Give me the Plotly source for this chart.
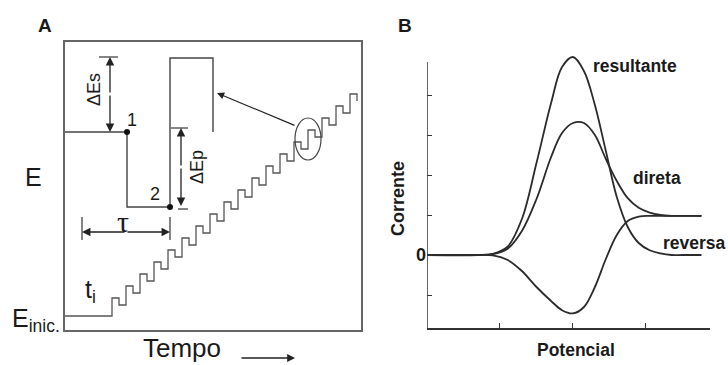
import plotly.graph_objects as go

W, H = 728, 365
FONT = "Liberation Sans, Arial, sans-serif"
SERIF = "Liberation Serif, Times New Roman, serif"
INK = "#2b2b2b"

# ---------------- Panel A : square-wave staircase (schematic units) ----------------
t_first = 47.0        # time of first pulse
period = 14.0         # tau
n_cycles = 18
E_ini = 14.0          # initial potential
E_first = 28.5        # first staircase level
dEs = 12.0            # staircase step
dEp = 3.5             # pulse amplitude

# inset (enlarged single cycle)
inset_t = [0, 62, 62, 105, 105, 148, 148]
inset_E = [198, 198, 123, 123, 272, 272, 198]
point_t = [62, 105]
point_E = [198, 123]
point_lbl = ["1", "2"]

# ---------------- Panel B : square-wave voltammogram ----------------
pot = [0, 0.7, 0.9, 1.1, 1.3, 1.5, 1.7, 1.85, 2.0, 2.15, 2.3, 2.45, 2.6, 2.75, 2.9,
       3.05, 3.2, 3.35, 3.5, 3.76]
i_res = [0, 0, 0.03, 0.2, 0.9, 2.3, 3.8, 4.7, 4.95, 4.6, 3.75, 2.6, 1.45, 0.7, 0.3,
         0.12, 0.04, 0.0, 0.0, 0.0]
i_dir = [0, 0, 0.02, 0.15, 0.6, 1.4, 2.45, 3.05, 3.3, 3.3, 3.0, 2.4, 1.85, 1.42, 1.18,
         1.06, 1.0, 0.98, 0.98, 0.98]
i_rev = [0, 0, -0.01, -0.12, -0.4, -0.8, -1.15, -1.38, -1.46, -1.3, -0.8, -0.1, 0.5,
         0.85, 0.96, 0.98, 0.98, 0.98, 0.98, 0.98]

# build staircase waveform points (hv steps)
st_t = [0.0]
st_E = [E_ini]
for k in range(n_cycles):
    base = E_first + dEs * k
    t = t_first + period * k
    st_t += [t, t + period / 2]
    st_E += [base + dEp, base - dEp]

fig = go.Figure()

fig.add_trace(go.Scatter(x=st_t, y=st_E, mode="lines", line_shape="hv",
                         line=dict(color="#555555", width=1.3), xaxis="x", yaxis="y",
                         hoverinfo="skip"))
fig.add_trace(go.Scatter(x=inset_t, y=inset_E, mode="lines",
                         line=dict(color="#444444", width=1.4), xaxis="x", yaxis="y",
                         hoverinfo="skip"))
fig.add_trace(go.Scatter(x=point_t, y=point_E, mode="markers",
                         marker=dict(color="#111111", size=6), xaxis="x", yaxis="y",
                         hoverinfo="skip"))

for yv in (i_res, i_dir, i_rev):
    fig.add_trace(go.Scatter(x=pot, y=yv, mode="lines", line_shape="spline",
                             line=dict(color=INK, width=1.8), xaxis="x2", yaxis="y2",
                             hoverinfo="skip"))

ann = []
shapes = []


def arrow(x, y, ax, ay, ref="", w=1.3, size=1.3):
    ann.append(dict(x=x, y=y, ax=ax, ay=ay, xref="x" + ref, yref="y" + ref,
                    axref="x" + ref, ayref="y" + ref, text="", showarrow=True,
                    arrowhead=2, arrowsize=size, arrowwidth=w, arrowcolor="#222222",
                    standoff=0, startstandoff=0))


def seg(x0, y0, x1, y1, ref="", color="#444444", w=1.3):
    shapes.append(dict(type="line", xref="x" + ref, yref="y" + ref, x0=x0, y0=y0,
                       x1=x1, y1=y1, line=dict(color=color, width=w)))


def text(x, y, s, size, ref="", angle=0, bold=False, family=FONT, xanchor="center"):
    ann.append(dict(x=x, y=y, xref="x" + ref, yref="y" + ref, text=s, showarrow=False,
                    textangle=angle, xanchor=xanchor, yanchor="middle",
                    font=dict(family=family, size=size, color="#1a1a1a",
                              weight="bold" if bold else "normal")))


def ptext(px, py, s, size, angle=0, bold=False, xanchor="center"):
    ann.append(dict(x=px / W, y=1 - py / H, xref="paper", yref="paper", text=s,
                    showarrow=False, textangle=angle, xanchor=xanchor, yanchor="middle",
                    font=dict(family=FONT, size=size, color="#1a1a1a",
                              weight="bold" if bold else "normal")))


# dE_s double arrow
seg(34, 273, 53, 273)
arrow(45, 273, 45, 236)
arrow(45, 198, 45, 236)
text(29, 240, "ΔEs", 18, angle=-90)
# dE_p double arrow
seg(106, 202, 123, 202)
seg(113, 121, 123, 121)
arrow(116, 202, 116, 163)
arrow(116, 124, 116, 163)
text(132, 163, "ΔEp", 18, angle=-90)
# tau
seg(17, 90, 17, 113)
seg(105, 90, 105, 113)
arrow(17, 98, 61, 98)
arrow(105, 98, 61, 98)
text(58, 109, "τ", 30, family=SERIF)
# labels 1, 2
text(67, 210, point_lbl[0], 18)
text(90, 136, point_lbl[1], 18)
# ellipse + pointer arrow
shapes.append(dict(type="circle", xref="x", yref="y", x0=230, x1=256, y0=170, y1=212,
                   line=dict(color="#444444", width=1.2)))
arrow(152, 237, 231, 204, w=1.2, size=1.2)
text(18, 39, "t<sub>i</sub>", 25, xanchor="left")

# labels outside plot areas (paper pixels)
ptext(33, 177, "E", 25)
ptext(10, 320, "E<sub>inic.</sub>", 25, xanchor="left")
ptext(182, 348, "Tempo", 26)
ann.append(dict(x=295 / W, y=1 - 358 / H, xref="paper", yref="paper", ax=-55, ay=0,
                axref="pixel", ayref="pixel", text="", showarrow=True, arrowhead=2,
                arrowsize=1.2, arrowwidth=1.3, arrowcolor="#222222", standoff=0))
ptext(45, 25, "A", 19, bold=True)
ptext(405, 25, "B", 19, bold=True)
ptext(576, 350, "Potencial", 17.5, bold=True)
ptext(398, 198, "Corrente", 18, angle=-90, bold=True)

# panel B curve labels
text(2.85, 4.72, "resultante", 17.5, ref="2", bold=True)
text(3.15, 1.93, "direta", 17.5, ref="2", bold=True)
text(3.66, 0.3, "reversa", 17.5, ref="2", bold=True)
# y axis line of panel B
seg(0, -1.825, 0, 4.825, ref="2", color="#333333", w=1.5)

fig.update_layout(
    width=W, height=H, margin=dict(l=0, r=0, t=0, b=0),
    paper_bgcolor="white", plot_bgcolor="white", showlegend=False,
    xaxis=dict(domain=[65 / W, 361 / W], range=[0, 296], showgrid=False, zeroline=False,
               showticklabels=False, ticks="", showline=True, mirror=True,
               linecolor="#666666", linewidth=1.6),
    yaxis=dict(domain=[35 / H, 323 / H], range=[0, 288], showgrid=False, zeroline=False,
               showticklabels=False, ticks="", showline=True, mirror=True,
               linecolor="#666666", linewidth=1.6),
    xaxis2=dict(domain=[427 / W, 710 / W], range=[0, 3.877], anchor="y2",
                showgrid=False, zeroline=False, showline=True, linecolor="#333333",
                linewidth=1.5, ticks="inside", ticklen=5, tickwidth=1.2,
                tickcolor="#333333", tickvals=[1, 2, 3], showticklabels=False),
    yaxis2=dict(domain=[37 / H, 315 / H], range=[-1.825, 5.125], anchor="x2",
                showgrid=False, zeroline=False, showline=False, ticks="inside",
                ticklen=5, tickwidth=1.2, tickcolor="#333333",
                tickvals=[-1, 0, 1, 2, 3, 4], ticktext=["", "0", "", "", "", ""],
                tickfont=dict(family=FONT, size=18, color="#1a1a1a", weight="bold")),
    annotations=ann, shapes=shapes,
)

fig.write_html("out.html")
